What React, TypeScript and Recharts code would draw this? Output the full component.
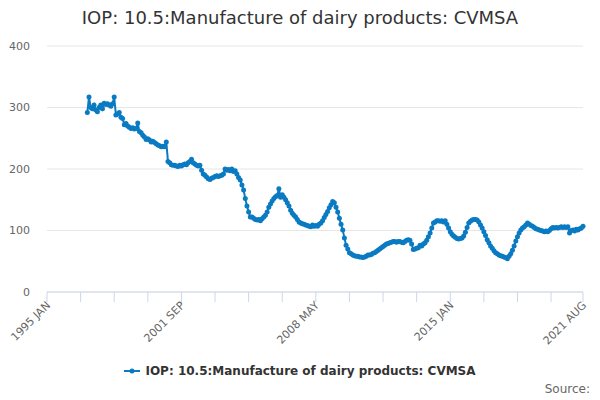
import React from 'react';
import { CartesianGrid, Line, LineChart, XAxis, YAxis } from 'recharts';

const monthNames = ['JAN', 'FEB', 'MAR', 'APR', 'MAY', 'JUN', 'JUL', 'AUG', 'SEP', 'OCT', 'NOV', 'DEC'];
const axisStartYear = 1995;
const dataStartYear = 1997;
const lastLabel = '2021 AUG';

// Monthly index values, 1997 JAN .. 2021 AUG
const dairyIndex = [
  292, 317, 300, 298, 304, 296, 293, 300, 304, 298, 307, 305, // 1997
  306, 304, 302, 306, 317, 288, 290, 292, 284, 282, 272, 274, // 1998
  270, 268, 266, 267, 265, 266, 275, 261, 259, 255, 252, 248, // 1999
  249, 247, 244, 245, 243, 241, 239, 238, 236, 237, 236, 244, // 2000
  212, 210, 207, 206, 206, 205, 204, 206, 205, 207, 208, 207, // 2001
  210, 212, 216, 210, 208, 206, 205, 206, 198, 192, 190, 187, // 2002
  184, 183, 185, 186, 188, 189, 188, 189, 190, 192, 200, 198, // 2003
  199, 197, 200, 196, 197, 192, 186, 182, 174, 166, 152, 140, // 2004
  130, 122, 122, 120, 118, 117, 118, 116, 119, 122, 125, 130, // 2005
  138, 143, 148, 152, 155, 157, 168, 154, 158, 154, 150, 145, // 2006
  140, 133, 128, 125, 122, 118, 114, 112, 111, 110, 109, 108, // 2007
  107, 106, 109, 107, 108, 107, 110, 112, 116, 121, 126, 131, // 2008
  137, 142, 147, 145, 138, 130, 120, 110, 101, 88, 76, 70, // 2009
  64, 62, 60, 59, 58, 58, 57, 57, 56, 57, 58, 60, // 2010
  60, 61, 63, 64, 66, 68, 70, 72, 74, 76, 78, 79, // 2011
  80, 81, 82, 82, 81, 82, 82, 81, 80, 82, 84, 85, // 2012
  84, 78, 69, 70, 71, 72, 76, 75, 78, 80, 84, 90, // 2013
  96, 104, 112, 114, 116, 116, 115, 116, 114, 116, 110, 104, // 2014
  98, 94, 91, 89, 87, 86, 87, 88, 91, 97, 105, 112, // 2015
  115, 117, 118, 118, 117, 114, 109, 104, 98, 92, 85, 80, // 2016
  75, 71, 67, 64, 62, 60, 59, 58, 57, 56, 54, 58, // 2017
  62, 68, 75, 83, 90, 96, 101, 104, 106, 109, 112, 110, // 2018
  108, 107, 105, 103, 102, 101, 100, 99, 98, 99, 98, 100, // 2019
  103, 105, 104, 105, 104, 105, 106, 105, 106, 105, 106, 96, // 2020
  100, 101, 99, 102, 101, 103, 104, 107, // 2021
];

const majorTicks = ['1995 JAN', '2001 SEP', '2008 MAY', '2015 JAN', '2021 AUG'];
const yTicks = [0, 100, 200, 300, 400];

const SERIES_NAME = 'IOP: 10.5:Manufacture of dairy products: CVMSA';
const COLOR = '#0a7bc2';
const FONT = '"DejaVu Sans", sans-serif';

// every month on the axis, 1995 JAN .. 2021 AUG
const categories: string[] = [];
for (let y = axisStartYear; ; y++) {
  let done = false;
  for (const m of monthNames) {
    const label = `${y} ${m}`;
    categories.push(label);
    if (label === lastLabel) {
      done = true;
      break;
    }
  }
  if (done) break;
}

const offset = (dataStartYear - axisStartYear) * 12;
const data = categories.map((label, i) => ({
  label,
  value: i >= offset ? dairyIndex[i - offset] ?? null : null,
}));

// tick marks every 20 months, labels on every fourth
const xTicks = categories.filter((_, i) => i % 20 === 0 || i === categories.length - 1);

function XTick({ x, y, payload }: any) {
  if (!majorTicks.includes(payload.value)) return <g />;
  const tx = x + 4;
  const ty = y + 2;
  return (
    <text
      x={tx}
      y={ty}
      textAnchor="end"
      fill="#666"
      fontSize={11}
      fontFamily={FONT}
      transform={`rotate(-45 ${tx} ${ty})`}
    >
      {payload.value}
    </text>
  );
}

export default function App() {
  return (
    <div style={{ position: 'absolute', left: 0, top: 0, width: 600, height: 400, background: '#fff', fontFamily: FONT }}>
      <div
        style={{
          position: 'absolute',
          top: 6,
          left: 0,
          width: 600,
          textAlign: 'center',
          fontSize: 18,
          lineHeight: '24px',
          color: '#333',
        }}
      >
        {SERIES_NAME}
      </div>
      <LineChart width={600} height={400} data={data} margin={{ top: 46, right: 17, left: 0, bottom: 48 }}>
        <CartesianGrid stroke="#e6e6e6" vertical={false} />
        <XAxis
          dataKey="label"
          ticks={xTicks}
          interval={0}
          height={60}
          tick={<XTick />}
          tickSize={10}
          tickMargin={2}
          tickLine={{ stroke: '#ccd6eb' }}
          axisLine={{ stroke: '#ccd6eb' }}
        />
        <YAxis
          domain={[0, 400]}
          ticks={yTicks}
          width={47}
          axisLine={false}
          tickLine={false}
          tickMargin={11}
          tick={{ fill: '#666', fontSize: 11, fontFamily: FONT }}
        />
        <Line
          type="linear"
          dataKey="value"
          name={SERIES_NAME}
          stroke={COLOR}
          strokeWidth={2}
          dot={{ r: 2.5, fill: COLOR, stroke: COLOR, strokeWidth: 0 }}
          isAnimationActive={false}
          connectNulls={false}
        />
      </LineChart>
      <div
        style={{
          position: 'absolute',
          top: 364,
          left: 0,
          width: 600,
          display: 'flex',
          justifyContent: 'center',
          alignItems: 'center',
          fontSize: 12,
          fontWeight: 'bold',
          color: '#333',
        }}
      >
        <svg width={16} height={12} style={{ marginRight: 5 }}>
          <line x1={0} y1={6} x2={16} y2={6} stroke={COLOR} strokeWidth={2} />
          <circle cx={8} cy={6} r={2.5} fill={COLOR} />
        </svg>
        <span>{SERIES_NAME}</span>
      </div>
      <div style={{ position: 'absolute', top: 382, right: 10, fontSize: 12, color: '#666' }}>Source:</div>
    </div>
  );
}
